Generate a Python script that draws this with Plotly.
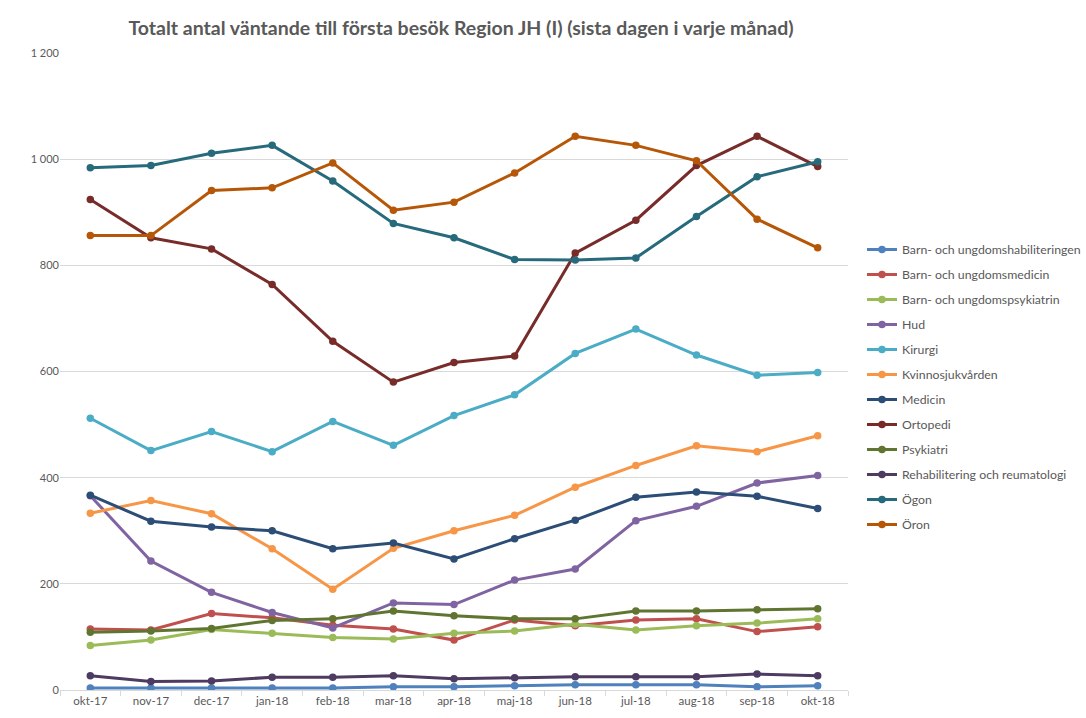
import plotly.graph_objects as go

months = ["okt-17", "nov-17", "dec-17", "jan-18", "feb-18", "mar-18", "apr-18",
          "maj-18", "jun-18", "jul-18", "aug-18", "sep-18", "okt-18"]

barn_hab = [4, 4, 4, 4, 4, 6, 6, 8, 10, 10, 10, 6, 8]
barn_med = [115, 113, 144, 136, 122, 115, 94, 132, 121, 132, 134, 110, 119]
barn_psyk = [84, 94, 114, 107, 99, 96, 107, 111, 124, 113, 121, 126, 134]
hud = [366, 243, 184, 146, 117, 164, 161, 207, 228, 319, 346, 390, 404]
kirurgi = [512, 451, 487, 449, 506, 461, 517, 556, 634, 680, 631, 593, 598]
kvinno = [333, 357, 332, 266, 190, 267, 300, 329, 382, 423, 460, 449, 479]
medicin = [367, 318, 307, 300, 266, 277, 247, 285, 320, 363, 373, 365, 342]
ortopedi = [924, 852, 831, 764, 657, 580, 617, 629, 823, 885, 988, 1043, 986]
psykiatri = [109, 111, 116, 131, 134, 149, 140, 134, 134, 149, 149, 151, 153]
rehab = [27, 16, 17, 24, 24, 27, 21, 23, 25, 25, 25, 30, 27]
ogon = [984, 988, 1011, 1026, 959, 879, 852, 811, 810, 814, 892, 967, 995]
oron = [856, 856, 941, 946, 993, 904, 919, 974, 1043, 1026, 997, 887, 833]

series = [
    ("Barn- och ungdomshabiliteringen", barn_hab, "#4F81BD"),
    ("Barn- och ungdomsmedicin", barn_med, "#C0504D"),
    ("Barn- och ungdomspsykiatrin", barn_psyk, "#9BBB59"),
    ("Hud", hud, "#8064A2"),
    ("Kirurgi", kirurgi, "#4BACC6"),
    ("Kvinnosjukvården", kvinno, "#F79646"),
    ("Medicin", medicin, "#2C4D75"),
    ("Ortopedi", ortopedi, "#772C2A"),
    ("Psykiatri", psykiatri, "#5F7530"),
    ("Rehabilitering och reumatologi", rehab, "#4D3B62"),
    ("Ögon", ogon, "#276A7C"),
    ("Öron", oron, "#B65708"),
]

FONT = "Lato"
fig = go.Figure()
for i, (name, vals, color) in enumerate(series):
    fig.add_trace(go.Scatter(
        x=months, y=vals, name=name, mode="lines+markers",
        line=dict(color=color, width=3),
        marker=dict(color=color, size=7.5),
        legendgroup=f"g{i}",
    ))

fig.update_layout(
    width=1086, height=718,
    margin=dict(l=60, r=238, t=53, b=28),
    paper_bgcolor="white", plot_bgcolor="white",
    font=dict(family=FONT, size=11, color="#595959"),
    separators=", ",
    title=dict(
        text="<b>Totalt antal väntande till första besök Region JH (I) (sista dagen i varje månad)</b>",
        font=dict(family=FONT, size=19.5, color="#595959"),
        x=461 / 1086, xanchor="center", xref="container",
        y=1 - 28 / 718, yanchor="middle", yref="container",
    ),
    showlegend=True,
    legend=dict(
        xref="container", yref="container",
        x=862 / 1086, xanchor="left",
        y=1 - 235 / 718, yanchor="top",
        font=dict(family=FONT, size=12.3, color="#595959"),
        tracegroupgap=6,
        bgcolor="rgba(0,0,0,0)",
    ),
    xaxis=dict(
        type="category", range=[-0.5, 12.5],
        showgrid=False, showline=True, linecolor="#d9d9d9", linewidth=1,
        ticks="outside", tickson="boundaries", ticklen=5, tickcolor="#d9d9d9",
        tickfont=dict(family=FONT, size=11.5, color="#595959"),
        zeroline=False,
    ),
    yaxis=dict(
        range=[0, 1200], tickvals=[0, 200, 400, 600, 800, 1000, 1200],
        tickformat=",", showgrid=True, gridcolor="#d9d9d9", gridwidth=1,
        zeroline=False, showline=False, ticks="",
        tickfont=dict(family=FONT, size=11, color="#595959"),
    ),
)

fig.write_html("out.html")
